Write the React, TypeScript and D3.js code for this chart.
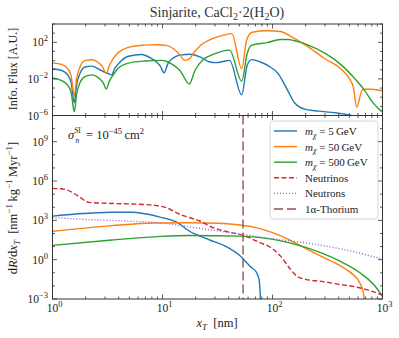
import React from "react";
import * as d3 from "d3";

type P = [number, number];

// All series stored as [log10(x_T / nm), log10(value)] pairs.
const fluxBlue: P[] = [[0,-0.89],[0.084,-1.08],[0.14,-1.6],[0.17,-2.4],[0.198,-4.6],[0.22,-2.6],[0.25,-1.4],[0.295,-0.7],[0.356,-0.6],[0.43,-1.0],[0.47,-1.25],[0.5,-1.38],[0.538,-1.56],[0.56,-1.0],[0.6,-0.33],[0.69,0.48],[0.81,0.67],[0.9,0.22],[0.95,-0.2],[0.98,-0.6],[1.014,-1.33],[1.05,-0.3],[1.1,0.3],[1.16,0.6],[1.25,0.7],[1.34,0.4],[1.43,-0.15],[1.49,-0.22],[1.55,-0.1],[1.61,0.03],[1.72,-3.74],[1.77,-0.52],[1.81,0.11],[1.89,-0.15],[1.98,-0.7],[2.05,-1.4],[2.1,-2.4],[2.14,-3.3],[2.2,-4.6],[2.3,-5.33],[2.42,-5.52],[2.57,-5.7],[2.72,-6.0],[2.8,-6.2]];
const fluxOrange: P[] = [[0,-0.25],[0.084,-0.42],[0.14,-0.9],[0.17,-1.7],[0.198,-3.86],[0.22,-1.9],[0.25,-0.7],[0.295,0.0],[0.356,0.1],[0.41,-0.15],[0.45,-0.6],[0.49,-1.4],[0.515,-0.6],[0.55,0.2],[0.6,0.9],[0.69,1.44],[0.81,1.67],[0.886,1.72],[0.96,1.73],[1.03,1.66],[1.1,1.3],[1.16,0.6],[1.2,0.03],[1.25,0.25],[1.28,0.78],[1.34,1.6],[1.46,2.44],[1.55,2.75],[1.63,2.95],[1.72,-0.9],[1.765,2.26],[1.816,3.1],[1.95,3.26],[2.07,3.18],[2.17,2.62],[2.325,1.5],[2.477,0.2],[2.63,-1.0],[2.705,-2.1],[2.735,-2.9],[2.765,-5.1],[2.816,-3.2],[2.87,-3.1],[3.0,-3.3]];
const fluxGreen: P[] = [[0,-1.9],[0.084,-2.19],[0.14,-2.7],[0.17,-3.5],[0.198,-5.6],[0.22,-3.6],[0.25,-2.4],[0.295,-1.74],[0.356,-1.56],[0.43,-2.0],[0.46,-2.4],[0.49,-3.1],[0.515,-2.3],[0.55,-1.6],[0.6,-0.82],[0.69,-0.27],[0.84,-0.04],[0.99,0.03],[1.04,-0.1],[1.1,-0.5],[1.16,-1.1],[1.244,-2.56],[1.295,-1.08],[1.37,0.11],[1.46,0.67],[1.61,1.14],[1.72,-2.25],[1.77,0.78],[1.81,1.7],[1.95,1.96],[2.07,2.3],[2.14,2.3],[2.23,2.07],[2.325,1.7],[2.48,0.78],[2.63,-0.52],[2.75,-2.0],[2.84,-3.3],[2.9,-4.4],[2.96,-5.2],[3.0,-5.6]];

const rateBlue: P[] = [[0,3.32],[0.235,3.5],[0.54,3.62],[0.72,3.62],[0.84,3.5],[0.977,3.25],[1.13,2.86],[1.25,2.15],[1.31,1.91],[1.43,1.5],[1.58,1.0],[1.705,0.3],[1.795,-0.5],[1.856,-1.0],[1.88,-1.6],[1.893,-3.5]];
const rateOrange: P[] = [[0,2.17],[0.54,2.6],[0.93,2.8],[1.25,2.82],[1.5,2.78],[1.705,2.65],[1.85,2.45],[2.007,2.05],[2.16,1.5],[2.28,0.95],[2.43,0.3],[2.58,-0.3],[2.705,-0.95],[2.795,-1.79],[2.825,-2.5],[2.84,-3.5]];
const rateGreen: P[] = [[0,1.09],[0.54,1.5],[0.99,1.78],[1.25,1.84],[1.705,1.8],[2.007,1.55],[2.28,1.0],[2.45,0.5],[2.61,-0.1],[2.795,-1.0],[2.92,-1.9],[3.0,-2.8]];
const rateNeutrinos: P[] = [[0,5.44],[0.114,5.36],[0.235,4.85],[0.33,4.37],[0.54,4.29],[0.72,4.25],[0.93,4.14],[1.04,3.95],[1.16,3.45],[1.25,3.2],[1.34,2.95],[1.43,2.55],[1.58,2.15],[1.735,1.85],[1.886,1.3],[1.98,0.95],[2.07,0.3],[2.16,-0.7],[2.22,-1.25],[2.3,-1.5],[2.46,-1.67],[2.58,-1.85],[2.77,-2.1],[2.9,-2.4],[3.0,-2.7]];
const rateNeutrons: P[] = [[0,3.22],[0.325,3.06],[0.72,2.93],[0.99,2.8],[1.25,2.5],[1.5,2.2],[1.735,1.93],[2.0,1.6],[2.28,1.3],[2.58,0.89],[3.0,0.05]];
const thoriumTrackLength = 54; // nm

const xTickExps = [0, 1, 2, 3];
const topYTickExps = [-6, -2, 2];
const botYTickExps = [-3, 0, 3, 6, 9];
const legendLabels = ["5", "50", "500"];

const L = 52.5, R = 382.5, T1 = 24, B1 = 115.5, B2 = 299;
const FONT = "'Liberation Serif', 'DejaVu Serif', serif";
const C = { blue: "#1f77b4", orange: "#ff7f0e", green: "#2ca02c", red: "#d62728", purple: "#9467bd", brown: "#8c564b" };

const x = d3.scaleLog().domain([1, 1000]).range([L, R]);
const yTop = d3.scaleLog().domain([1e-6, 1e4]).range([B1, T1]);
const yBot = d3.scaleLog().domain([1e-3, 1e11]).range([B2, B1]);

const mk = (ys: d3.ScaleLogarithmic<number, number>) =>
  d3.line<P>().x(d => x(Math.pow(10, d[0]))).y(d => ys(Math.pow(10, d[1]))).curve(d3.curveMonotoneX);

const fmt = (e: number) => (e < 0 ? "\u2212" + Math.abs(e) : String(e));

function Pow({ px, py, e, anchor }: { px: number; py: number; e: number; anchor: string }) {
  return (
    <text x={px} y={py} textAnchor={anchor} fontSize={11.5} fontFamily={FONT} fill="#222">
      <tspan>10</tspan>
      <tspan dy={-5} fontSize={8.5}>{fmt(e)}</tspan>
    </text>
  );
}

function Ticks({ yScale, y0, y1, majors }: { yScale: any; y0: number; y1: number; majors: number[] }) {
  const els: any[] = [];
  for (let d = 0; d < 3; d++) {
    for (let k = 1; k <= 9; k++) {
      const v = k * Math.pow(10, d);
      const len = k === 1 ? 4.5 : 2.5;
      const px = x(v);
      els.push(<line key={`xb${d}${k}`} x1={px} x2={px} y1={y1} y2={y1 - len} />);
      els.push(<line key={`xt${d}${k}`} x1={px} x2={px} y1={y0} y2={y0 + len} />);
    }
  }
  const px3 = x(1000);
  els.push(<line key="x3b" x1={px3} x2={px3} y1={y1} y2={y1 - 4.5} />);
  const [lo, hi] = yScale.domain();
  for (let e = Math.round(Math.log10(lo)); e <= Math.round(Math.log10(hi)); e++) {
    const py = yScale(Math.pow(10, e));
    const len = majors.includes(e) ? 4.5 : 2.5;
    els.push(<line key={`yl${e}`} x1={L} x2={L + len} y1={py} y2={py} />);
    els.push(<line key={`yr${e}`} x1={R} x2={R - len} y1={py} y2={py} />);
  }
  return <g stroke="#333" strokeWidth={0.8}>{els}</g>;
}

export default function App() {
  const lt = mk(yTop);
  const lb = mk(yBot);
  const legend = [
    { c: C.blue, dash: undefined, m: legendLabels[0] },
    { c: C.orange, dash: undefined, m: legendLabels[1] },
    { c: C.green, dash: undefined, m: legendLabels[2] },
    { c: C.red, dash: "5,2.5", t: "Neutrinos" },
    { c: C.purple, dash: "1,2", t: "Neutrons" },
    { c: C.brown, dash: "9,4", t: "1\u03b1-Thorium" },
  ];
  return (
    <svg width={399} height={338} style={{ position: "absolute", left: 0, top: 0, background: "#fff" }}>
      <defs>
        <clipPath id="cTop"><rect x={L} y={T1} width={R - L} height={B1 - T1} /></clipPath>
        <clipPath id="cBot"><rect x={L} y={B1} width={R - L} height={B2 - B1} /></clipPath>
      </defs>
      <rect width={399} height={338} fill="#fff" />
      <text x={217} y={17} textAnchor="middle" fontSize={14} fontFamily={FONT} fill="#333">
        <tspan>Sinjarite, CaCl</tspan><tspan dy={3} fontSize={10}>2</tspan><tspan dy={-3}>{"\u00b72(H"}</tspan><tspan dy={3} fontSize={10}>2</tspan><tspan dy={-3}>O)</tspan>
      </text>

      <g clipPath="url(#cTop)" fill="none" strokeWidth={1.4} strokeLinejoin="round">
        <path d={lt(fluxBlue) || ""} stroke={C.blue} />
        <path d={lt(fluxOrange) || ""} stroke={C.orange} />
        <path d={lt(fluxGreen) || ""} stroke={C.green} />
      </g>

      <g clipPath="url(#cBot)" fill="none" strokeWidth={1.4}>
        <path d={lb(rateBlue) || ""} stroke={C.blue} />
        <path d={lb(rateOrange) || ""} stroke={C.orange} />
        <path d={lb(rateGreen) || ""} stroke={C.green} />
        <path d={lb(rateNeutrinos) || ""} stroke={C.red} strokeDasharray="5,2.5" />
        <path d={lb(rateNeutrons) || ""} stroke={C.purple} strokeDasharray="1,2" />
        <line x1={x(thoriumTrackLength)} x2={x(thoriumTrackLength)} y1={B1} y2={B2} stroke={C.brown} strokeDasharray="9,4" />
      </g>

      <Ticks yScale={yTop} y0={T1} y1={B1} majors={topYTickExps} />
      <Ticks yScale={yBot} y0={B1} y1={B2} majors={botYTickExps} />
      <rect x={L} y={T1} width={R - L} height={B1 - T1} fill="none" stroke="#333" strokeWidth={1} />
      <rect x={L} y={B1} width={R - L} height={B2 - B1} fill="none" stroke="#333" strokeWidth={1} />

      {topYTickExps.map(e => <Pow key={"t" + e} px={48} py={yTop(Math.pow(10, e)) + 4} e={e} anchor="end" />)}
      {botYTickExps.map(e => <Pow key={"b" + e} px={48} py={yBot(Math.pow(10, e)) + 4} e={e} anchor="end" />)}
      {xTickExps.map(e => <Pow key={"x" + e} px={x(Math.pow(10, e)) + 2} py={B2 + 13} e={e} anchor="middle" />)}

      {/* sigma annotation: sigma with stacked sub/superscript */}
      <text x={68} y={139} fontSize={12.5} fontFamily={FONT} fill="#222">
        <tspan fontStyle="italic">{"\u03c3"}</tspan>
        <tspan dy={-6} fontSize={7.5}>SI</tspan>
      </text>
      <text x={75.5} y={142.5} fontSize={7.5} fontFamily={FONT} fill="#222" fontStyle="italic">n</text>
      <text x={86} y={139} fontSize={12.5} fontFamily={FONT} fill="#222">
        <tspan>{"= 10"}</tspan>
        <tspan dy={-5} fontSize={8.5}>{"\u221245"}</tspan>
        <tspan dy={5}>{"\u2009cm"}</tspan>
        <tspan dy={-5} fontSize={8.5}>2</tspan>
      </text>

      <rect x={270} y={121} width={108} height={98} rx={3} fill="#fff" fillOpacity={0.85} stroke="#ccc" strokeWidth={0.8} />
      {legend.map((it, i) => {
        const cy = 131 + i * 15.6;
        return (
          <g key={i}>
            <line x1={274} x2={297} y1={cy} y2={cy} stroke={it.c} strokeWidth={1.4} strokeDasharray={it.dash} />
            <text x={305} y={cy + 4} fontSize={11} fontFamily={FONT} fill="#222">
              {it.m !== undefined ? (
                <>
                  <tspan fontStyle="italic">m</tspan>
                  <tspan dy={2.5} fontSize={8} fontStyle="italic">{"\u03c7"}</tspan>
                  <tspan dy={-2.5}>{` = ${it.m}\u2009GeV`}</tspan>
                </>
              ) : it.t}
            </text>
          </g>
        );
      })}

      <text transform="translate(17,69) rotate(-90)" textAnchor="middle" fontSize={12} fontFamily={FONT} fill="#222">
        Info. Flux [A.U.]
      </text>
      <text transform="translate(17,208) rotate(-90)" textAnchor="middle" fontSize={12.5} fontFamily={FONT} fill="#222">
        <tspan>d</tspan><tspan fontStyle="italic">R</tspan><tspan>/d</tspan><tspan fontStyle="italic">x</tspan>
        <tspan dy={2.5} fontSize={9} fontStyle="italic">T</tspan>
        <tspan dy={-2.5}>{"\u2002[nm"}</tspan><tspan dy={-5} fontSize={9}>{"\u22121"}</tspan>
        <tspan dy={5}>{"\u2009kg"}</tspan><tspan dy={-5} fontSize={9}>{"\u22121"}</tspan>
        <tspan dy={5}>{"\u2009Myr"}</tspan><tspan dy={-5} fontSize={9}>{"\u22121"}</tspan>
        <tspan dy={5}>]</tspan>
      </text>
      <text x={217} y={327} textAnchor="middle" fontSize={12.5} fontFamily={FONT} fill="#222">
        <tspan fontStyle="italic">x</tspan><tspan dy={2.5} fontSize={9} fontStyle="italic">T</tspan><tspan dy={-2.5}>{"\u2002[nm]"}</tspan>
      </text>
    </svg>
  );
}
